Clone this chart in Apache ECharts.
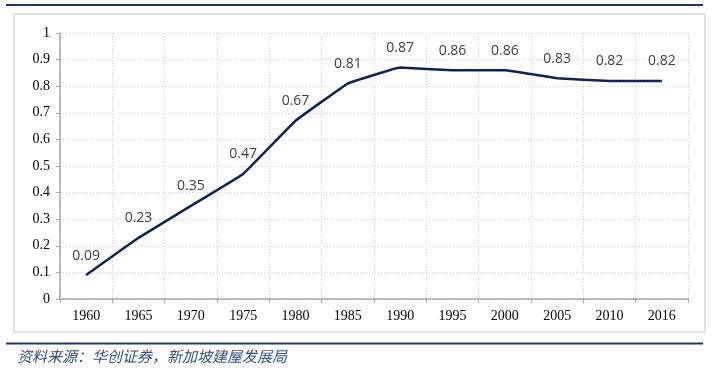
<!DOCTYPE html>
<html>
<head>
<meta charset="utf-8">
<script src="https://cdn.jsdelivr.net/npm/echarts@6/dist/echarts.min.js"></script>
<style>
html,body{margin:0;padding:0;background:#fff;}
#c{width:716px;height:372px;}
</style>
</head>
<body>
<div id="c"></div>
<script>
const categories = ['1960','1965','1970','1975','1980','1985','1990','1995','2000','2005','2010','2016'];
const values = [0.09,0.23,0.35,0.47,0.67,0.81,0.87,0.86,0.86,0.83,0.82,0.82];
const sourceText = '资料来源：华创证券，新加坡建屋发展局';

const chart = echarts.init(document.getElementById('c'), null, {renderer:'canvas'});
chart.setOption({
  animation:false,
  backgroundColor:'#fff',
  grid:{left:60, right:28, top:33, bottom:73},
  xAxis:{
    type:'category',
    data:categories,
    boundaryGap:true,
    axisLine:{lineStyle:{color:'#a6a6a6', width:1.5}},
    axisTick:{show:true, length:4, lineStyle:{color:'#a6a6a6'}},
    axisLabel:{color:'#000', fontFamily:'Liberation Serif', fontSize:14, margin:10},
    splitLine:{show:true, lineStyle:{color:'#cfcfcf', type:[1,2], width:1}}
  },
  yAxis:{
    type:'value',
    min:0, max:1, interval:0.1,
    axisLine:{show:true, lineStyle:{color:'#a6a6a6', width:1.5}},
    axisTick:{show:true, length:4, lineStyle:{color:'#a6a6a6'}},
    axisLabel:{color:'#000', fontFamily:'Liberation Serif', fontSize:14, margin:10,
      formatter:v=>String(Math.round(v*10)/10)},
    splitLine:{show:true, lineStyle:{color:'#cfcfcf', type:[1,2], width:1}}
  },
  series:[{
    type:'line',
    data:values,
    smooth:0.06,
    symbol:'circle',
    symbolSize:1,
    showSymbol:true,
    itemStyle:{color:'#0c2459'},
    lineStyle:{color:'#0c2459', width:2.5},
    label:{show:true, position:'top', distance:12, color:'#404040',
      fontFamily:'Open Sans', fontSize:14,
      formatter:p=>Number(p.value).toFixed(2)}
  }],
  graphic:[
    {type:'line', shape:{x1:6,y1:5,x2:703,y2:5}, style:{stroke:'#1f3864', lineWidth:2}},
    {type:'rect', shape:{x:14,y:14,width:691,height:318}, style:{fill:null, stroke:'#d9d9d9', lineWidth:1.5}},
    {type:'line', shape:{x1:6,y1:343.5,x2:703,y2:343.5}, style:{stroke:'#1f3864', lineWidth:2}},
    {type:'text', left:17, top:349, style:{text:sourceText, fill:'#2f5080',
      font:'italic 15px "Noto Sans CJK SC"'}}
  ]
});
</script>
</body>
</html>
